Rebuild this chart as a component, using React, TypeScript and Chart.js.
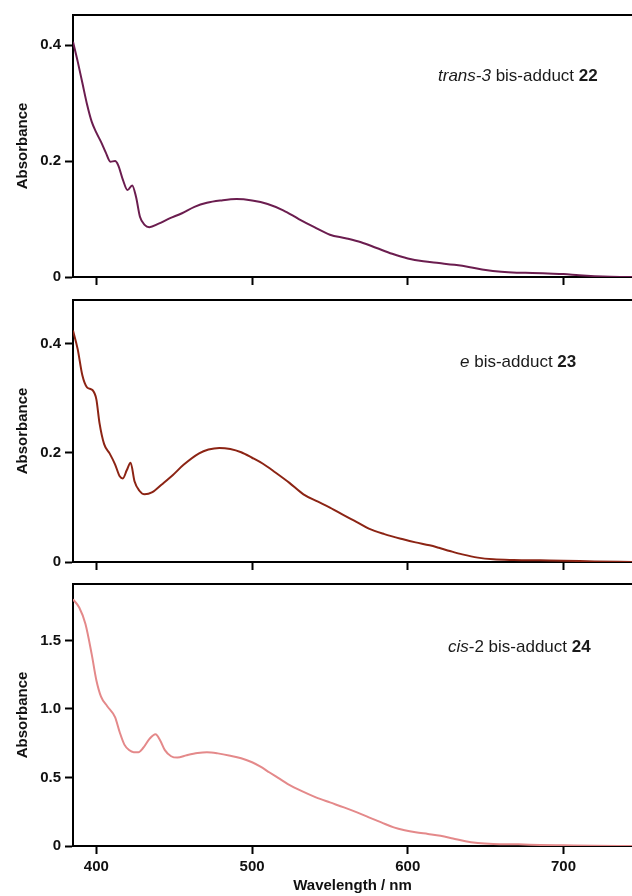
import React, { useEffect, useRef } from "react";
import { Chart, registerables } from "chart.js";

Chart.register(...registerables);

// ---------- data ----------
const WL_22 = [385, 388, 391, 394, 397, 400, 403, 406, 409, 412, 414, 417, 420, 423, 425.5, 428, 431, 434, 440, 447, 455, 463, 471, 480, 490, 500, 510, 520, 530, 540, 550, 560, 570, 580, 590, 600, 610, 620, 630, 640, 650, 660, 670, 680, 690, 700, 710, 720, 730, 744];
const ABS_22 = [0.406, 0.372, 0.335, 0.298, 0.268, 0.249, 0.233, 0.215, 0.199, 0.2, 0.193, 0.168, 0.15, 0.158, 0.138, 0.104, 0.09, 0.086, 0.092, 0.101, 0.11, 0.121, 0.128, 0.132, 0.1345, 0.132, 0.126, 0.115, 0.1, 0.086, 0.073, 0.067, 0.06, 0.05, 0.04, 0.032, 0.027, 0.024, 0.021, 0.017, 0.012, 0.009, 0.0075, 0.007, 0.006, 0.005, 0.003, 0.0015, 0.0005, 0];

const WL_23 = [385, 388, 391, 394, 397.5, 400, 402, 405, 408.5, 412, 415, 417, 419.5, 422, 424.5, 427.5, 431, 436, 442, 449, 456, 466, 472, 479, 486, 493, 500, 507, 515, 524, 533, 542, 550, 560, 567, 575, 585, 597, 605, 614, 620, 627, 635, 645, 655, 668, 685, 700, 720, 744];
const ABS_23 = [0.424, 0.39, 0.342, 0.32, 0.315, 0.298, 0.255, 0.216, 0.199, 0.179, 0.157, 0.153, 0.168, 0.182, 0.148, 0.131, 0.124, 0.128, 0.142, 0.159, 0.178, 0.199, 0.206, 0.209, 0.207, 0.201, 0.191, 0.18, 0.164, 0.145, 0.124, 0.111, 0.0998, 0.084, 0.0735, 0.061, 0.051, 0.0416, 0.036, 0.0306, 0.026, 0.0202, 0.014, 0.008, 0.005, 0.0037, 0.003, 0.0025, 0.001, 0];

const WL_24 = [385, 389, 393, 397, 400, 403, 407, 412, 415, 418, 421, 424, 427, 430, 434, 438, 441, 444, 448, 452, 458, 465, 471, 478, 486, 493, 500, 506, 511, 517, 523, 532, 541, 550, 559, 567, 575, 583, 591, 598, 605, 613, 621, 629, 637, 645, 655, 671, 685, 700, 720, 744];
const ABS_24 = [1.8, 1.74, 1.62, 1.4, 1.21, 1.09, 1.02, 0.94, 0.83, 0.74, 0.7, 0.685, 0.685, 0.715, 0.78, 0.815, 0.77, 0.7, 0.655, 0.645, 0.662, 0.678, 0.684, 0.676, 0.659, 0.64, 0.611, 0.575, 0.538, 0.495, 0.452, 0.4, 0.355, 0.318, 0.282, 0.247, 0.209, 0.172, 0.136, 0.115, 0.1, 0.088, 0.075, 0.055, 0.034, 0.022, 0.015, 0.012, 0.008, 0.005, 0.001, 0];

const X_TICKS = [400, 500, 600, 700];
const Y_TICKS_22 = [0, 0.2, 0.4];
const Y_TICKS_23 = [0, 0.2, 0.4];
const Y_TICKS_24 = [0, 0.5, 1.0, 1.5];

const X_TITLE = "Wavelength / nm";
const Y_TITLE = "Absorbance";

const FONT = "'Liberation Sans', Arial, Helvetica, sans-serif";

type Seg = { text: string; style: "italic" | "normal" | "bold" };

type PanelProps = {
  wl: number[];
  abs: number[];
  yTicks: number[];
  yMax: number;
  yDecimals: number;
  color: string;
  label: Seg[];
  labelDx: number;
  labelDy: number;
  canvasTop: number;
  canvasHeight: number;
  areaTop: number;
  areaBottom: number;
  padBottom: number;
  showXLabels: boolean;
};

function fmtY(v: number, dec: number) {
  if (v === 0) return "0";
  return v.toFixed(dec);
}

function Panel(p: PanelProps) {
  const ref = useRef<HTMLCanvasElement | null>(null);
  useEffect(() => {
    if (!ref.current) return;
    const padTop = p.areaTop - p.canvasTop;
    const xHeight = p.canvasTop + p.canvasHeight - p.padBottom - p.areaBottom;
    const framePlugin = {
      id: "frame" + p.canvasTop,
      afterDraw(chart: any) {
        const { ctx, chartArea } = chart;
        ctx.save();
        ctx.strokeStyle = "#000";
        ctx.lineWidth = 2;
        ctx.beginPath();
        ctx.moveTo(chartArea.left - 1, chartArea.top);
        ctx.lineTo(chart.width, chartArea.top);
        ctx.stroke();
        // annotation
        let x = chartArea.left + p.labelDx;
        const y = chartArea.top + p.labelDy;
        ctx.fillStyle = "#1a1a1a";
        ctx.textBaseline = "middle";
        ctx.textAlign = "left";
        for (const s of p.label) {
          const st = s.style === "italic" ? "italic " : s.style === "bold" ? "bold " : "";
          ctx.font = `${st}17px ${FONT}`;
          ctx.fillText(s.text, x, y);
          x += ctx.measureText(s.text).width;
        }
        ctx.restore();
      },
    };
    const chart = new Chart(ref.current, {
      type: "line",
      data: {
        datasets: [
          {
            data: p.wl.map((w, i) => ({ x: w, y: p.abs[i] })),
            borderColor: p.color,
            borderWidth: 2,
            pointRadius: 0,
            cubicInterpolationMode: "monotone",
            fill: false,
          },
        ],
      },
      options: {
        responsive: false,
        animation: false,
        devicePixelRatio: 1,
        layout: { padding: { top: padTop, left: 0, right: 0, bottom: p.padBottom } },
        plugins: { legend: { display: false }, tooltip: { enabled: false } },
        scales: {
          x: {
            type: "linear",
            min: 385,
            max: 744,
            afterBuildTicks: (s: any) => {
              s.ticks = X_TICKS.map((v) => ({ value: v }));
            },
            afterFit: (s: any) => {
              s.height = xHeight;
            },
            border: { display: true, color: "#000", width: 2 },
            grid: {
              display: true,
              drawOnChartArea: false,
              drawTicks: true,
              tickLength: 8,
              tickWidth: 2,
              tickColor: "#000",
            },
            ticks: {
              display: p.showXLabels,
              padding: 4,
              color: "#111",
              font: { family: FONT, size: 15, weight: "bold" },
              maxRotation: 0,
              callback: (v: any) => String(v),
            },
            title: {
              display: p.showXLabels,
              text: X_TITLE,
              color: "#111",
              font: { family: FONT, size: 15, weight: "bold" },
              padding: { top: 0, bottom: 0 },
            },
          },
          y: {
            type: "linear",
            min: 0,
            max: p.yMax,
            afterBuildTicks: (s: any) => {
              s.ticks = p.yTicks.map((v) => ({ value: v }));
            },
            afterFit: (s: any) => {
              s.width = 73;
            },
            border: { display: true, color: "#000", width: 2 },
            grid: {
              display: true,
              drawOnChartArea: false,
              drawTicks: true,
              tickLength: 8,
              tickWidth: 2,
              tickColor: "#000",
            },
            ticks: {
              padding: 4,
              color: "#111",
              font: { family: FONT, size: 15, weight: "bold" },
              callback: (v: any) => fmtY(Number(v), p.yDecimals),
            },
            title: {
              display: true,
              text: Y_TITLE,
              color: "#111",
              font: { family: FONT, size: 15, weight: "bold" },
              padding: { top: 14, bottom: 0 },
            },
          },
        },
      },
      plugins: [framePlugin],
    } as any);
    return () => chart.destroy();
  }, []);
  return (
    <canvas
      ref={ref}
      width={632}
      height={p.canvasHeight}
      style={{ position: "absolute", left: 0, top: p.canvasTop, width: 632, height: p.canvasHeight, display: "block" }}
    />
  );
}

export default function App() {
  return (
    <div style={{ position: "absolute", left: 0, top: 0, width: 632, height: 896, background: "#fff", overflow: "hidden" }}>
      <Panel
        wl={WL_22}
        abs={ABS_22}
        yTicks={Y_TICKS_22}
        yMax={0.452}
        yDecimals={1}
        color="#6b1d4f"
        label={[
          { text: "trans-3", style: "italic" },
          { text: " bis-adduct ", style: "normal" },
          { text: "22", style: "bold" },
        ]}
        labelDx={365}
        labelDy={61}
        canvasTop={0}
        canvasHeight={292}
        areaTop={15}
        areaBottom={277}
        padBottom={0}
        showXLabels={false}
      />
      <Panel
        wl={WL_23}
        abs={ABS_23}
        yTicks={Y_TICKS_23}
        yMax={0.48}
        yDecimals={1}
        color="#8c2414"
        label={[
          { text: "e", style: "italic" },
          { text: " bis-adduct ", style: "normal" },
          { text: "23", style: "bold" },
        ]}
        labelDx={387}
        labelDy={62}
        canvasTop={285}
        canvasHeight={290}
        areaTop={300}
        areaBottom={562}
        padBottom={0}
        showXLabels={false}
      />
      <Panel
        wl={WL_24}
        abs={ABS_24}
        yTicks={Y_TICKS_24}
        yMax={1.912}
        yDecimals={1}
        color="#e4898a"
        label={[
          { text: "cis", style: "italic" },
          { text: "-2 bis-adduct ", style: "normal" },
          { text: "24", style: "bold" },
        ]}
        labelDx={375}
        labelDy={63}
        canvasTop={570}
        canvasHeight={326}
        areaTop={584}
        areaBottom={846}
        padBottom={1}
        showXLabels={true}
      />
    </div>
  );
}
